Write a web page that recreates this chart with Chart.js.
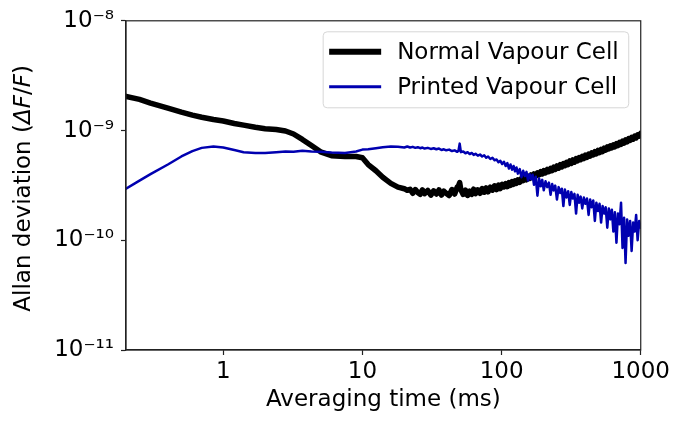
<!DOCTYPE html>
<html>
<head>
<meta charset="utf-8">
<script src="https://cdn.jsdelivr.net/npm/chart.js@4"></script>
<style>
  html, body { margin: 0; padding: 0; background: #fff; }
  #chart { display: block; }
</style>
</head>
<body>
<canvas id="chart" width="673" height="424"></canvas>
<script>
// averaging times (ms), shared by both traces
const times = [
  0.2, 0.25, 0.3, 0.4, 0.5, 0.6, 0.7, 0.85, 1, 1.2,
  1.4, 1.7, 2, 2.4, 2.8, 3.2, 3.7, 4.3, 5, 6,
  7.5, 9, 10, 11, 12.5, 14, 16, 18, 20, 21,
  22, 23, 24, 25, 26, 27, 28, 29.5, 31, 32.5,
  34, 35.5, 37, 38.5, 40, 42, 44, 46, 48, 49,
  50, 51, 53, 55, 57, 59, 61, 63, 65, 67.5,
  70, 72.5, 75, 77.5, 80, 83, 86, 89, 92, 95,
  98, 101, 104, 107, 110, 113, 116, 119, 122, 125,
  128, 131, 135, 139, 143, 147, 151, 155, 159, 163,
  167, 171, 176, 181, 186, 191, 196, 201, 207, 213,
  219, 225, 231, 237, 243, 250, 257, 264, 271, 278,
  285, 293, 301, 309, 317, 325, 334, 343, 352, 361,
  370, 380, 390, 400, 411, 422, 433, 444, 456, 468,
  480, 493, 506, 519, 532, 546, 560, 575, 590, 605,
  620, 636, 652, 669, 686, 704, 722, 740, 759, 778,
  798, 818, 839, 860, 882, 904, 927, 950, 975, 1000
];

// Allan deviation, normal cell
const normalCell = [
  2.05e-9, 1.92e-9, 1.78e-9, 1.6e-9, 1.47e-9, 1.38e-9, 1.32e-9, 1.26e-9, 1.22e-9, 1.16e-9,
  1.12e-9, 1.07e-9, 1.04e-9, 1.02e-9, 0.99e-9, 0.93e-9, 0.83e-9, 0.73e-9, 0.64e-9, 0.59e-9,
  0.58e-9, 0.58e-9, 0.565e-9, 0.49e-9, 0.43e-9, 0.375e-9, 0.33e-9, 0.305e-9, 0.295e-9, 0.285e-9,
  0.292e-9, 0.268e-9, 0.29e-9, 0.272e-9, 0.262e-9, 0.288e-9, 0.266e-9, 0.284e-9, 0.258e-9, 0.282e-9,
  0.264e-9, 0.288e-9, 0.258e-9, 0.28e-9, 0.268e-9, 0.256e-9, 0.29e-9, 0.264e-9, 0.305e-9, 0.312e-9,
  0.335e-9, 0.288e-9, 0.262e-9, 0.286e-9, 0.256e-9, 0.28e-9, 0.262e-9, 0.292e-9, 0.266e-9, 0.288e-9,
  0.268e-9, 0.296e-9, 0.274e-9, 0.3e-9, 0.276e-9, 0.305e-9, 0.286e-9, 0.314e-9, 0.29e-9, 0.318e-9,
  0.296e-9, 0.324e-9, 0.306e-9, 0.328e-9, 0.308e-9, 0.336e-9, 0.316e-9, 0.342e-9, 0.324e-9, 0.348e-9,
  0.33e-9, 0.356e-9, 0.338e-9, 0.366e-9, 0.35e-9, 0.376e-9, 0.356e-9, 0.384e-9, 0.366e-9, 0.394e-9,
  0.374e-9, 0.402e-9, 0.384e-9, 0.412e-9, 0.394e-9, 0.422e-9, 0.402e-9, 0.432e-9, 0.412e-9, 0.442e-9,
  0.422e-9, 0.452e-9, 0.432e-9, 0.464e-9, 0.442e-9, 0.476e-9, 0.454e-9, 0.488e-9, 0.466e-9, 0.5e-9,
  0.478e-9, 0.514e-9, 0.49e-9, 0.528e-9, 0.502e-9, 0.54e-9, 0.515e-9, 0.555e-9, 0.53e-9, 0.568e-9,
  0.542e-9, 0.582e-9, 0.556e-9, 0.596e-9, 0.57e-9, 0.61e-9, 0.585e-9, 0.626e-9, 0.6e-9, 0.642e-9,
  0.614e-9, 0.658e-9, 0.63e-9, 0.672e-9, 0.644e-9, 0.69e-9, 0.662e-9, 0.708e-9, 0.68e-9, 0.726e-9,
  0.695e-9, 0.742e-9, 0.71e-9, 0.76e-9, 0.728e-9, 0.78e-9, 0.748e-9, 0.8e-9, 0.768e-9, 0.822e-9,
  0.79e-9, 0.845e-9, 0.812e-9, 0.866e-9, 0.835e-9, 0.89e-9, 0.858e-9, 0.915e-9, 0.89e-9, 0.94e-9
];

// Allan deviation, printed cell
const printedCell = [
  2.95e-10, 3.5e-10, 4.0e-10, 4.9e-10, 5.8e-10, 6.5e-10, 6.95e-10, 7.15e-10, 7.0e-10, 6.65e-10,
  6.35e-10, 6.25e-10, 6.25e-10, 6.35e-10, 6.45e-10, 6.4e-10, 6.55e-10, 6.45e-10, 6.4e-10, 6.3e-10,
  6.25e-10, 6.45e-10, 6.7e-10, 6.75e-10, 6.9e-10, 7.05e-10, 7.15e-10, 7.1e-10, 7.0e-10, 7.15e-10,
  7.0e-10, 7.1e-10, 6.95e-10, 7.05e-10, 6.9e-10, 7.0e-10, 6.85e-10, 6.95e-10, 6.8e-10, 6.9e-10,
  6.75e-10, 6.85e-10, 6.65e-10, 6.75e-10, 6.6e-10, 6.7e-10, 6.5e-10, 6.6e-10, 6.4e-10, 6.55e-10,
  7.6e-10, 6.35e-10, 6.45e-10, 6.2e-10, 6.35e-10, 6.1e-10, 6.25e-10, 6.0e-10, 6.15e-10, 5.9e-10,
  6.05e-10, 5.8e-10, 5.95e-10, 5.65e-10, 5.8e-10, 5.5e-10, 5.65e-10, 5.35e-10, 5.45e-10, 5.15e-10,
  5.3e-10, 4.95e-10, 5.2e-10, 4.75e-10, 5.05e-10, 4.5e-10, 4.9e-10, 4.4e-10, 4.75e-10, 4.25e-10,
  4.6e-10, 4.05e-10, 4.45e-10, 3.75e-10, 4.3e-10, 3.85e-10, 4.2e-10, 3.5e-10, 4.0e-10, 3.6e-10,
  3.95e-10, 3.2e-10, 3.8e-10, 2.55e-10, 3.65e-10, 3.1e-10, 3.55e-10, 2.85e-10, 3.45e-10, 3.05e-10,
  3.35e-10, 2.6e-10, 3.25e-10, 2.85e-10, 3.15e-10, 2.35e-10, 3.05e-10, 2.7e-10, 2.95e-10, 2.05e-10,
  2.9e-10, 2.45e-10, 2.8e-10, 2.1e-10, 2.75e-10, 2.4e-10, 2.65e-10, 1.75e-10, 2.6e-10, 2.2e-10,
  2.5e-10, 1.95e-10, 2.45e-10, 2.15e-10, 2.4e-10, 1.7e-10, 2.35e-10, 2.0e-10, 2.3e-10, 1.5e-10,
  2.2e-10, 1.85e-10, 2.15e-10, 1.45e-10, 2.05e-10, 1.75e-10, 2.0e-10, 1.3e-10, 1.95e-10, 1.55e-10,
  1.9e-10, 1.2e-10, 1.8e-10, 0.95e-10, 1.75e-10, 1.4e-10, 2.2e-10, 0.85e-10, 1.6e-10, 0.62e-10,
  1.55e-10, 1.1e-10, 1.5e-10, 0.8e-10, 1.45e-10, 1.2e-10, 1.7e-10, 1.0e-10, 1.5e-10, 1.3e-10
];

const seriesLabels = ['Normal Vapour Cell', 'Printed Vapour Cell'];
const xTickValues = [1, 10, 100, 1000];
const xTickLabels = ['1', '10', '100', '1000'];
const yTickValues = [1e-11, 1e-10, 1e-9, 1e-8];
const yTickLabels = ['10⁻¹¹', '10⁻¹⁰', '10⁻⁹', '10⁻⁸'];

const FONT = '"DejaVu Sans", sans-serif';
const AXIS = '#222';

// matplotlib style frame round the plot area
const framePlugin = {
  id: 'frame',
  afterDatasetsDraw(chart) {
    const { ctx, chartArea: a } = chart;
    ctx.save();
    ctx.strokeStyle = AXIS;
    ctx.lineWidth = 1.2;
    ctx.strokeRect(a.left, a.top, a.right - a.left, a.bottom - a.top);
    ctx.restore();
  }
};

// legend box in the upper right corner of the axes
const boxLegend = {
  id: 'boxLegend',
  afterDraw(chart) {
    const { ctx, chartArea: a } = chart;
    const sets = chart.data.datasets;
    ctx.save();
    ctx.font = '23px ' + FONT;
    const textW = Math.max(...sets.map(d => ctx.measureText(d.label).width));
    const lineLen = 52, gap = 16, padL = 6, padR = 10, rowH = 35;
    const w = padL + lineLen + gap + textW + padR;
    const h = 76;
    const left = a.right - 12 - w;
    const top = a.top + 11;
    ctx.beginPath();
    ctx.roundRect(left, top, w, h, 4);
    ctx.fillStyle = 'rgba(255,255,255,0.8)';
    ctx.fill();
    ctx.strokeStyle = '#d6d6d6';
    ctx.lineWidth = 1;
    ctx.stroke();
    sets.forEach((d, i) => {
      const y = top + 20 + i * rowH;
      ctx.beginPath();
      ctx.moveTo(left + padL, y);
      ctx.lineTo(left + padL + lineLen, y);
      ctx.strokeStyle = d.borderColor;
      ctx.lineWidth = i === 0 ? 6 : 3;
      ctx.stroke();
      ctx.fillStyle = '#000';
      ctx.textBaseline = 'middle';
      ctx.fillText(d.label, left + padL + lineLen + gap, y + 1);
    });
    ctx.restore();
  }
};

// y axis title with the italic ratio
const yTitle = {
  id: 'yTitle',
  afterDraw(chart) {
    const { ctx, chartArea: a } = chart;
    const parts = [['Allan deviation (', ''], ['ΔF', 'italic '], ['/', ''], ['F', 'italic '], [')', '']];
    ctx.save();
    ctx.fillStyle = '#000';
    ctx.textBaseline = 'middle';
    let total = 0;
    parts.forEach(p => { ctx.font = p[1] + '23px ' + FONT; total += ctx.measureText(p[0]).width; });
    ctx.translate(24, (a.top + a.bottom) / 2 + 3);
    ctx.rotate(-Math.PI / 2);
    let x = -total / 2;
    parts.forEach(p => {
      ctx.font = p[1] + '23px ' + FONT;
      ctx.fillText(p[0], x, 0);
      x += ctx.measureText(p[0]).width;
    });
    ctx.restore();
  }
};

const toPoints = vals => vals.map((v, i) => ({ x: times[i], y: v }));

new Chart(document.getElementById('chart'), {
  type: 'line',
  data: {
    datasets: [
      {
        label: seriesLabels[0],
        data: toPoints(normalCell),
        borderColor: '#000000',
        borderWidth: 5.5,
        order: 1
      },
      {
        label: seriesLabels[1],
        data: toPoints(printedCell),
        borderColor: '#0000b0',
        borderWidth: 2.5,
        order: 0
      }
    ]
  },
  options: {
    responsive: false,
    animation: false,
    layout: { padding: { top: 14, right: 29, left: 0, bottom: 0 } },
    elements: {
      point: { radius: 0 },
      line: { tension: 0, borderJoinStyle: 'round', borderCapStyle: 'round' }
    },
    datasets: { line: { clip: 0 } },
    plugins: {
      legend: { display: false },
      tooltip: { enabled: false }
    },
    scales: {
      x: {
        type: 'logarithmic',
        min: 0.2,
        max: 1000,
        afterFit: s => { s.height = 74; },
        afterBuildTicks: s => { s.ticks = xTickValues.map(v => ({ value: v })); },
        ticks: {
          color: '#000',
          font: { family: FONT, size: 23 },
          padding: 3,
          maxRotation: 0,
          autoSkip: false,
          callback: v => xTickLabels[xTickValues.indexOf(v)]
        },
        grid: { drawOnChartArea: false, color: AXIS, tickLength: 5, tickWidth: 1.2 },
        border: { color: AXIS, width: 1.2 },
        title: {
          display: true,
          text: 'Averaging time (ms)',
          color: '#000',
          font: { family: FONT, size: 23 },
          padding: { top: 0, bottom: 10 }
        }
      },
      y: {
        type: 'logarithmic',
        min: 1e-11,
        max: 1e-8,
        afterFit: s => { s.width = 126; },
        afterBuildTicks: s => { s.ticks = yTickValues.map(v => ({ value: v })); },
        ticks: {
          color: '#000',
          font: { family: FONT, size: 23 },
          padding: 7,
          autoSkip: false,
          callback: v => yTickLabels[yTickValues.indexOf(v)]
        },
        grid: { drawOnChartArea: false, color: AXIS, tickLength: 5, tickWidth: 1.2 },
        border: { color: AXIS, width: 1.2 }
      }
    }
  },
  plugins: [framePlugin, boxLegend, yTitle]
});
</script>
</body>
</html>
